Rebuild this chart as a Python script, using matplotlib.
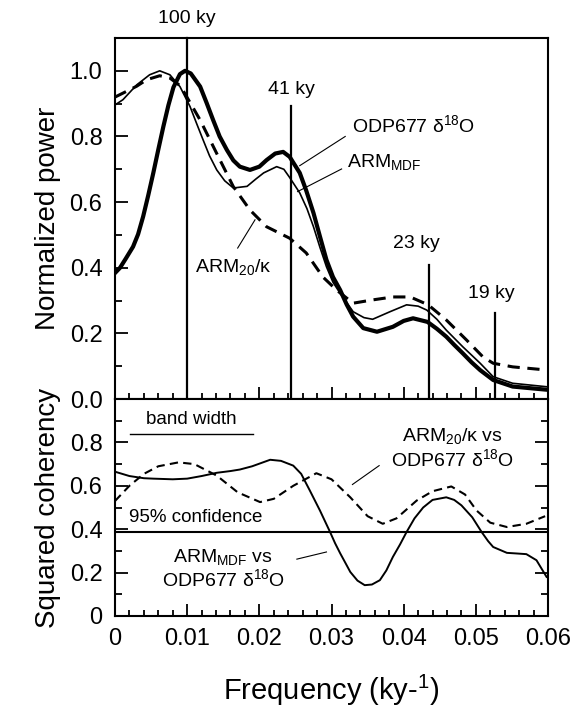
import matplotlib
matplotlib.use("Agg")
import matplotlib.pyplot as plt
from matplotlib.ticker import MultipleLocator, FixedLocator

plt.rcParams['font.family'] = ['Liberation Sans', 'DejaVu Sans']
plt.rcParams['mathtext.fontset'] = 'custom'
plt.rcParams['mathtext.rm'] = 'Liberation Sans'
plt.rcParams['mathtext.it'] = 'Liberation Sans:italic'

# power spectra
f_odp = [0, 0.0007, 0.0015, 0.0025, 0.0032, 0.0039, 0.0046, 0.0053, 0.0060, 0.0067,
         0.0074, 0.0081, 0.0090, 0.0097, 0.0105, 0.0118, 0.0127, 0.0136, 0.0145, 0.0155,
         0.0164, 0.0173, 0.0187, 0.0200, 0.0210, 0.0222, 0.0233, 0.0242, 0.0256, 0.0265,
         0.0275, 0.0284, 0.0293, 0.0302, 0.0312, 0.0321, 0.0330, 0.0344, 0.0363, 0.0385,
         0.0400, 0.0413, 0.0433, 0.0446, 0.0459, 0.0470, 0.0482, 0.0494, 0.0506, 0.0524,
         0.0551, 0.0600]
p_odp = [0.384, 0.400, 0.428, 0.464, 0.502, 0.556, 0.620, 0.688, 0.760, 0.830,
         0.895, 0.950, 0.990, 1.0, 0.992, 0.952, 0.902, 0.850, 0.800, 0.759,
         0.727, 0.708, 0.698, 0.708, 0.728, 0.748, 0.753, 0.738, 0.689, 0.635,
         0.567, 0.495, 0.424, 0.372, 0.332, 0.288, 0.251, 0.216, 0.205, 0.220,
         0.238, 0.246, 0.235, 0.214, 0.190, 0.165, 0.139, 0.112, 0.088, 0.058,
         0.038, 0.028]

f_mdf = [0, 0.0011, 0.0030, 0.0048, 0.0062, 0.0076, 0.0090, 0.0104, 0.0113, 0.0122,
         0.0131, 0.0141, 0.0152, 0.0164, 0.0183, 0.0195, 0.0206, 0.0224, 0.0234, 0.0242,
         0.0256, 0.0266, 0.0275, 0.0284, 0.0293, 0.0302, 0.0312, 0.0330, 0.0345, 0.0357,
         0.0381, 0.0404, 0.0420, 0.0432, 0.0446, 0.0459, 0.0482, 0.0506, 0.0524, 0.0551,
         0.0600]
p_mdf = [0.896, 0.912, 0.957, 0.988, 1.0, 0.988, 0.952, 0.891, 0.840, 0.790,
         0.741, 0.698, 0.665, 0.643, 0.648, 0.670, 0.689, 0.708, 0.700, 0.675,
         0.628, 0.580, 0.525, 0.462, 0.403, 0.356, 0.322, 0.266, 0.248, 0.243,
         0.266, 0.287, 0.283, 0.271, 0.243, 0.210, 0.159, 0.109, 0.068, 0.048,
         0.037]

f_arm = [0, 0.0011, 0.0030, 0.0044, 0.0062, 0.0076, 0.0090, 0.0097, 0.0118, 0.0141,
         0.0164, 0.0187, 0.0210, 0.0242, 0.0265, 0.0288, 0.0307, 0.0330, 0.0357, 0.0385,
         0.0409, 0.0434, 0.0459, 0.0487, 0.0510, 0.0524, 0.0551, 0.0600]
p_arm = [0.920, 0.932, 0.953, 0.973, 0.985, 0.978, 0.955, 0.930, 0.850, 0.748,
         0.647, 0.576, 0.525, 0.490, 0.445, 0.372, 0.332, 0.292, 0.302, 0.311,
         0.311, 0.287, 0.241, 0.180, 0.128, 0.109, 0.098, 0.088]

# orbital periods (ky) and how high their markers reach
periods = [100, 41, 23, 19]
period_top = [1.10, 0.893, 0.409, 0.262]
period_lbl = ['100 ky', '41 ky', '23 ky', '19 ky']

# squared coherency
f_coh1 = [0, 0.0020, 0.0040, 0.0053, 0.0080, 0.0100, 0.0120, 0.0141, 0.0160, 0.0173,
          0.0190, 0.0205, 0.0215, 0.0230, 0.0247, 0.0258, 0.0270, 0.0284, 0.0298, 0.0305,
          0.0312, 0.0320, 0.0326, 0.0336, 0.0346, 0.0356, 0.0367, 0.0376, 0.0385, 0.0395,
          0.0404, 0.0415, 0.0427, 0.0440, 0.0459, 0.0470, 0.0480, 0.0495, 0.0508, 0.0517,
          0.0524, 0.0543, 0.0557, 0.0570, 0.0584, 0.0598]
c_coh1 = [0.665, 0.645, 0.635, 0.633, 0.630, 0.633, 0.645, 0.660, 0.668, 0.675,
          0.690, 0.708, 0.720, 0.715, 0.693, 0.655, 0.578, 0.486, 0.387, 0.335,
          0.289, 0.240, 0.203, 0.163, 0.142, 0.145, 0.165, 0.210, 0.272, 0.330,
          0.387, 0.450, 0.500, 0.535, 0.547, 0.535, 0.510, 0.455, 0.387, 0.345,
          0.318, 0.291, 0.288, 0.285, 0.257, 0.180]

f_coh2 = [0, 0.0020, 0.0040, 0.0060, 0.0088, 0.0110, 0.0141, 0.0170, 0.0201, 0.0220,
          0.0247, 0.0279, 0.0300, 0.0326, 0.0350, 0.0371, 0.0390, 0.0418, 0.0440, 0.0466,
          0.0485, 0.0501, 0.0520, 0.0543, 0.0570, 0.0596]
c_coh2 = [0.530, 0.600, 0.655, 0.690, 0.708, 0.700, 0.647, 0.570, 0.525, 0.540,
          0.600, 0.658, 0.630, 0.547, 0.460, 0.425, 0.450, 0.532, 0.575, 0.597,
          0.560, 0.486, 0.430, 0.410, 0.425, 0.460]

conf95 = 0.387
band = [0.0021, 0.0191]

fig = plt.figure(figsize=(5.87, 7.09), dpi=100)
ax1 = fig.add_axes([0.1959, 0.4372, 0.7377, 0.5092])
ax2 = fig.add_axes([0.1959, 0.1312, 0.7377, 0.3060])

# top panel
ax1.plot(f_arm, p_arm, color='k', lw=2.2, ls=(0, (4, 2.5)))
ax1.plot(f_mdf, p_mdf, color='k', lw=1.2)
ax1.plot(f_odp, p_odp, color='k', lw=3.0)
for per, top in zip(periods, period_top):
    ax1.plot([1 / per, 1 / per], [0, top], color='k', lw=1.6, clip_on=False)
ax1.text(0.0100, 1.16, period_lbl[0], ha='center', va='center', fontsize=14)
ax1.text(0.0244, 0.942, period_lbl[1], ha='center', va='center', fontsize=14)
ax1.text(0.0418, 0.475, period_lbl[2], ha='center', va='center', fontsize=14)
ax1.text(0.0522, 0.323, period_lbl[3], ha='center', va='center', fontsize=14)

ax1.plot([0.0256, 0.0319], [0.711, 0.800], color='k', lw=0.8)
ax1.text(0.0328, 0.835, r'ODP677 $\mathregular{\delta^{18}}$O', ha='left', va='center', fontsize=14)
ax1.plot([0.0253, 0.0314], [0.632, 0.701], color='k', lw=0.8)
ax1.text(0.0321, 0.722, r'ARM$_{\mathregular{MDF}}$', ha='left', va='center', fontsize=14)
ax1.plot([0.0170, 0.0194], [0.460, 0.546], color='k', lw=0.8)
ax1.text(0.0111, 0.402, r'ARM$_{\mathregular{20}}$/κ', ha='left', va='center', fontsize=14)

ax1.set_xlim(0, 0.06)
ax1.set_ylim(0, 1.1)
ax1.xaxis.set_major_locator(MultipleLocator(0.01))
ax1.xaxis.set_minor_locator(MultipleLocator(0.002))
ax1.yaxis.set_major_locator(FixedLocator([0, 0.2, 0.4, 0.6, 0.8, 1.0]))
ax1.yaxis.set_minor_locator(FixedLocator([0.1, 0.3, 0.5, 0.7, 0.9]))
ax1.set_yticklabels(['0.0', '0.2', '0.4', '0.6', '0.8', '1.0'])
ax1.tick_params(axis='x', which='both', direction='in', labelbottom=False, width=1.3)
ax1.tick_params(axis='x', which='major', length=8.5)
ax1.tick_params(axis='x', which='minor', length=4.3)
ax1.tick_params(axis='y', which='both', direction='in', width=1.3, labelsize=17, pad=9)
ax1.tick_params(axis='y', which='major', length=9.5)
ax1.tick_params(axis='y', which='minor', length=5)
ax1.set_ylabel('Normalized power', fontsize=20, labelpad=6)

# bottom panel
ax2.plot(f_coh2, c_coh2, color='k', lw=1.5, ls=(0, (4, 2.5)))
ax2.plot(f_coh1, c_coh1, color='k', lw=1.4)
ax2.axhline(conf95, color='k', lw=1.5)
ax2.plot(band, [0.84, 0.84], color='k', lw=1.0)
ax2.text(sum(band) / 2, 0.905, 'band width', ha='center', va='center', fontsize=13.5)
ax2.text(0.0020, 0.452, '95% confidence', ha='left', va='center', fontsize=13.5)

ax2.plot([0.0329, 0.0366], [0.606, 0.693], color='k', lw=0.8)
ax2.text(0.0468, 0.775, 'ARM$_{\\mathregular{20}}$/κ vs\nODP677 $\\mathregular{\\delta^{18}}$O',
         ha='center', va='center', fontsize=14, linespacing=1.1)
ax2.plot([0.0252, 0.0293], [0.262, 0.295], color='k', lw=0.8)
ax2.text(0.0150, 0.218, 'ARM$_{\\mathregular{MDF}}$ vs\nODP677 $\\mathregular{\\delta^{18}}$O',
         ha='center', va='center', fontsize=14, linespacing=1.1)

ax2.set_xlim(0, 0.06)
ax2.set_ylim(0, 1.0)
ax2.xaxis.set_major_locator(MultipleLocator(0.01))
ax2.xaxis.set_minor_locator(MultipleLocator(0.002))
ax2.set_xticks([0, 0.01, 0.02, 0.03, 0.04, 0.05, 0.06])
ax2.set_xticklabels(['0', '0.01', '0.02', '0.03', '0.04', '0.05', '0.06'])
ax2.yaxis.set_major_locator(FixedLocator([0, 0.2, 0.4, 0.6, 0.8]))
ax2.yaxis.set_minor_locator(FixedLocator([0.1, 0.3, 0.5, 0.7, 0.9]))
ax2.set_yticklabels(['0', '0.2', '0.4', '0.6', '0.8'])
ax2.tick_params(axis='x', which='both', direction='in', width=1.3, labelsize=17, pad=9)
ax2.tick_params(axis='x', which='major', length=8.5)
ax2.tick_params(axis='x', which='minor', length=4.3)
ax2.tick_params(axis='y', which='both', direction='in', right=True, width=1.3,
                labelsize=17, pad=9)
ax2.tick_params(axis='y', which='major', length=9.5)
ax2.tick_params(axis='y', which='minor', length=5)
ax2.set_ylabel('Squared coherency', fontsize=20, labelpad=6)
ax2.set_xlabel('Frequency (ky-$^{\\mathregular{1}}$)', fontsize=21, labelpad=16)

for ax in (ax1, ax2):
    for sp in ax.spines.values():
        sp.set_linewidth(1.5)

fig.savefig('out.png', dpi=100)
